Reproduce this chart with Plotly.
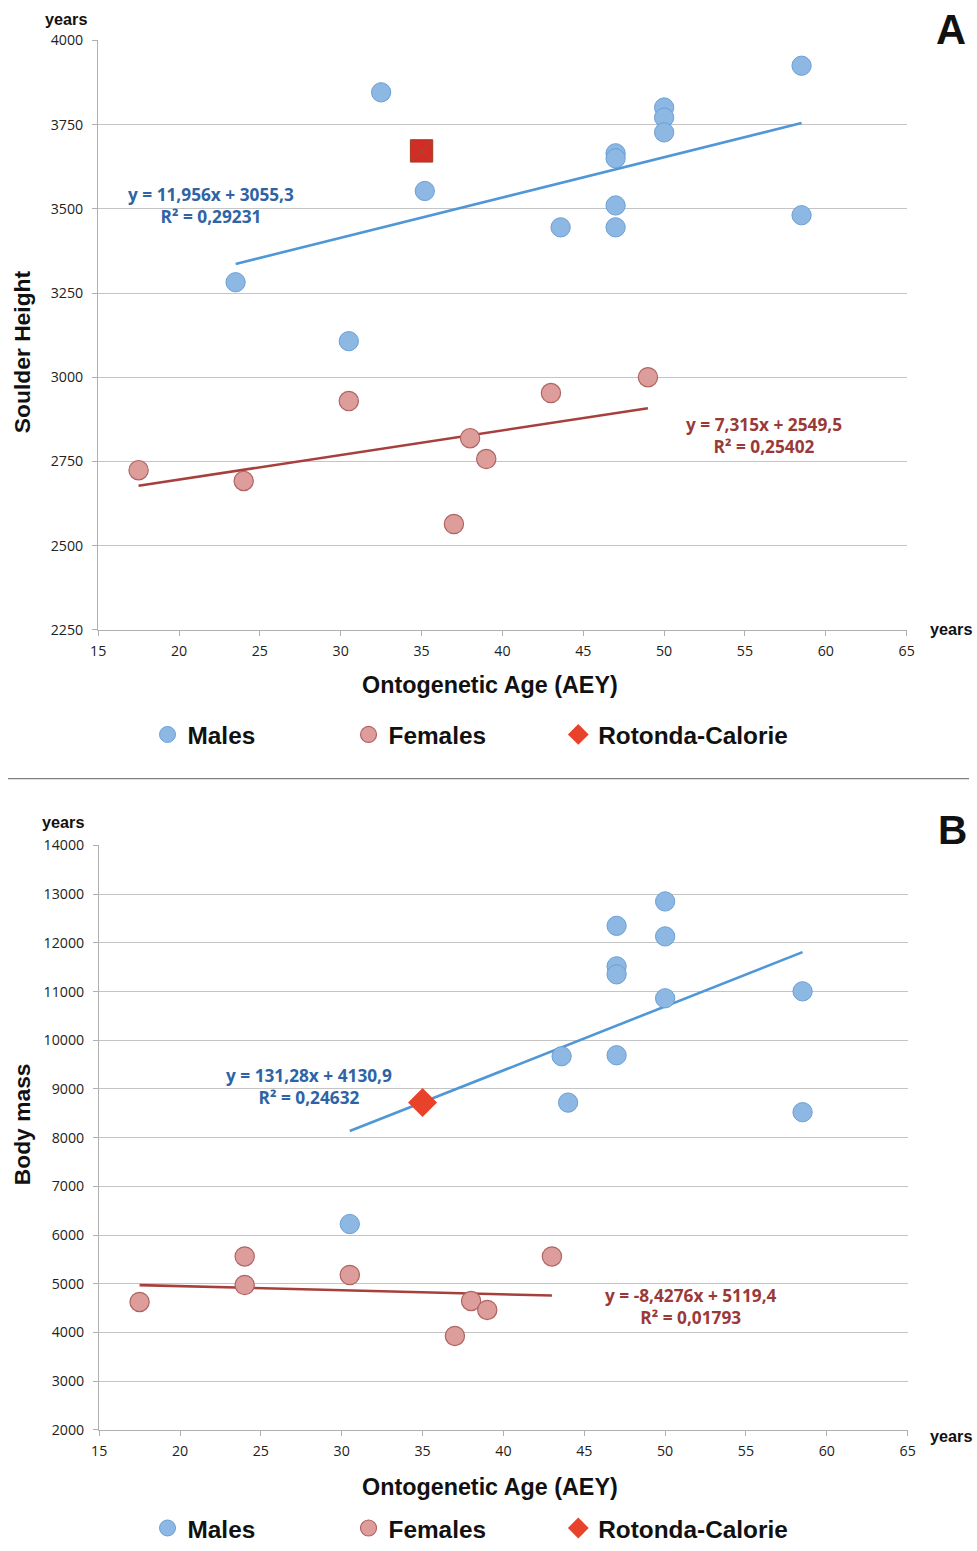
import plotly.graph_objects as go

W, H = 977, 1551
# Calibration of the photographing step (the picture comes out slightly shrunk and offset);
# layout positions below are given in target-picture pixels and mapped through these.
SX, OX = 0.983, 7.9
SY, OY = 0.987, 9.5
K = 1.015  # size compensation for the shrink

# ---------- Data: panel A (shoulder height) ----------
a_male_age = [23.5, 32.5, 35.2, 30.5, 43.6, 47, 47, 47, 47, 50, 50, 50, 58.5, 58.5]
a_male_val = [3282, 3846, 3553, 3107, 3445, 3665, 3650, 3510, 3445, 3801, 3771, 3727, 3925, 3481]
a_fem_age = [17.5, 24, 30.5, 37, 38, 39, 43, 49]
a_fem_val = [2724, 2692, 2929, 2564, 2819, 2757, 2953, 3000]
a_rot_age = [35]
a_rot_val = [3672]
a_male_fit = (11.956, 3055.3, [23.5, 58.5])
a_fem_fit = (7.315, 2549.5, [17.5, 49])

# ---------- Data: panel B (body mass) ----------
b_male_age = [30.5, 43.6, 44, 47, 47, 47, 47, 50, 50, 50, 58.5, 58.5]
b_male_val = [6226, 9672, 8720, 12350, 11518, 11354, 9692, 12851, 12133, 10862, 11005, 8523]
b_fem_age = [17.5, 24, 24, 30.5, 37, 38, 39, 43]
b_fem_val = [4626, 5560, 4974, 5179, 3928, 4646, 4462, 5560]
b_rot_age = [35]
b_rot_val = [8720]
b_male_fit = (131.28, 4130.9, [30.5, 58.5])
b_fem_fit = (-8.4276, 5119.4, [17.5, 43])

x_ticks = [15, 20, 25, 30, 35, 40, 45, 50, 55, 60, 65]
a_y_ticks = [2250, 2500, 2750, 3000, 3250, 3500, 3750, 4000]
b_y_ticks = list(range(2000, 14001, 1000))

MALE_FILL, MALE_EDGE = "#8cb8e3", "#6c9fd4"
FEM_FILL, FEM_EDGE = "#dd9d9b", "#b06461"
MALE_LINE, FEM_LINE = "#4f97d6", "#a7403c"
MALE_TXT, FEM_TXT = "#2e64a5", "#9a3a38"
ROT_A, ROT_B = "#d42b27", "#e8432a"

def fx(p):
    return (p - OX) / SX

def fy(p):
    return (p - OY) / SY

def px_x(p):
    return min(max(fx(p) / W, 0), 1)

def px_y(p):
    return min(max(1 - fy(p) / H, 0), 1)

fig = go.Figure()
MS = 19 * K

def add_panel(xa, ya, leg, leg_rot, male_x, male_y, fem_x, fem_y, rot_x, rot_y, square, rot_col, mfit, ffit):
    for (m, b, xr), col in ((mfit, MALE_LINE), (ffit, FEM_LINE)):
        fig.add_trace(go.Scatter(x=xr, y=[m * v + b for v in xr], mode="lines",
                                 line=dict(color=col, width=2.6), xaxis=xa, yaxis=ya,
                                 showlegend=False, hoverinfo="skip"))
    fig.add_trace(go.Scatter(x=male_x, y=male_y, mode="markers", name="Males",
                             marker=dict(size=MS, color=MALE_FILL, line=dict(color=MALE_EDGE, width=1)),
                             xaxis=xa, yaxis=ya, legend=leg))
    fig.add_trace(go.Scatter(x=fem_x, y=fem_y, mode="markers", name="Females",
                             marker=dict(size=MS, color=FEM_FILL, line=dict(color=FEM_EDGE, width=1.2)),
                             xaxis=xa, yaxis=ya, legend=leg))
    if not square:
        fig.add_trace(go.Scatter(x=rot_x, y=rot_y, mode="markers", name="Rotonda-Calorie",
                                 marker=dict(size=22 * K, symbol="diamond", color=rot_col,
                                             line=dict(color=rot_col, width=0)),
                                 xaxis=xa, yaxis=ya, legend=leg_rot))
    else:
        fig.add_trace(go.Scatter(x=rot_x, y=rot_y, mode="markers", name="Rotonda-Calorie",
                                 marker=dict(size=22 * K, symbol="square", color=rot_col,
                                             line=dict(color="#a33a22", width=1)),
                                 xaxis=xa, yaxis=ya, showlegend=False))
        fig.add_trace(go.Scatter(x=rot_x, y=rot_y, mode="markers",
                                 marker=dict(size=21 * K, symbol="x-thin", color="#8a5a2a",
                                             line=dict(color="#8a5a2a", width=1)),
                                 xaxis=xa, yaxis=ya, showlegend=False, hoverinfo="skip"))
        fig.add_trace(go.Scatter(x=[None], y=[None], mode="markers", name="Rotonda-Calorie",
                                 marker=dict(size=22, symbol="diamond", color=ROT_B),
                                 xaxis=xa, yaxis=ya, legend=leg_rot))

add_panel("x", "y", "legend", "legend3", a_male_age, a_male_val, a_fem_age, a_fem_val,
          a_rot_age, a_rot_val, True, ROT_A, a_male_fit, a_fem_fit)
add_panel("x2", "y2", "legend2", "legend4", b_male_age, b_male_val, b_fem_age, b_fem_val,
          b_rot_age, b_rot_val, False, ROT_B, b_male_fit, b_fem_fit)

tick_font = dict(family="Open Sans, Liberation Sans, sans-serif", size=14 * K, color="#222")
axis_common = dict(showline=True, linecolor="#b0b0b0", linewidth=1.3, ticks="outside",
                   tickcolor="#b0b0b0", ticklen=5, tickfont=tick_font, zeroline=False,
                   tickformat="d")

leg_font = dict(family="Liberation Sans, Arial, sans-serif", size=24 * K, color="#111", weight="bold")

def leg(x_fig, y_fig, ew=None):
    d = dict(orientation="h", x=x_fig / W, y=1 - y_fig / H, xanchor="left", yanchor="middle",
             font=leg_font, bgcolor="rgba(0,0,0,0)", itemsizing="trace")
    if ew:
        d.update(entrywidth=ew, entrywidthmode="pixels")
    return d

fig.update_layout(
    width=W, height=H, autosize=False, plot_bgcolor="white", paper_bgcolor="white",
    margin=dict(l=0, r=0, t=0, b=0),
    xaxis=dict(domain=[px_x(98), px_x(906)], range=[15, 65], tickvals=x_ticks,
               showgrid=False, anchor="y", ticklabelstandoff=3, **axis_common),
    yaxis=dict(domain=[px_y(630), px_y(40)], range=[2250, 4000], tickvals=a_y_ticks,
               showgrid=True, gridcolor="#c4c4c4", gridwidth=1.3, anchor="x",
               ticklabelstandoff=6, **axis_common),
    xaxis2=dict(domain=[px_x(99), px_x(907)], range=[15, 65], tickvals=x_ticks,
                showgrid=False, anchor="y2", ticklabelstandoff=3, **axis_common),
    yaxis2=dict(domain=[px_y(1431), px_y(846)], range=[2000, 14000], tickvals=b_y_ticks,
                showgrid=True, gridcolor="#c4c4c4", gridwidth=1.3, anchor="x2",
                ticklabelstandoff=6, **axis_common),
    legend=leg(fx(167) - 20, fy(735), 156),
    legend2=leg(fx(167) - 20, 1540, 156),
    legend3=leg(fx(577) - 19.5, fy(735)),
    legend4=leg(fx(577) - 19.5, 1540),
    showlegend=True,
)

ann = []
bold_font = lambda s, c="#111": dict(family="Liberation Sans, Arial, sans-serif", size=s * K, color=c)
eq_font = lambda c: dict(family="Open Sans, Noto Sans, sans-serif", size=17 * K, color=c)

def paper_ann(text, x, y, size, angle=0, color="#111", xanchor="center"):
    ann.append(dict(text=text, x=px_x(x), y=px_y(y), xref="paper", yref="paper",
                    showarrow=False, font=bold_font(size, color), textangle=angle,
                    xanchor=xanchor, yanchor="middle"))

paper_ann("<b>years</b>", 66, 19, 16)
paper_ann("<b>years</b>", 950, 629, 16)
paper_ann("<b>years</b>", 63, 822, 16)
paper_ann("<b>years</b>", 950, 1437, 16)
paper_ann("<b>A</b>", 950, 29, 41)
paper_ann("<b>B</b>", 952, 830, 40)
paper_ann("<b>Soulder Height</b>", 22, 352, 22.5, angle=-90)
paper_ann("<b>Body mass</b>", 22, 1125, 22.5, angle=-90)
paper_ann("<b>Ontogenetic Age (AEY)</b>", 490, 685, 23)
paper_ann("<b>Ontogenetic Age (AEY)</b>", 490, 1488, 23)

def eq_ann(text, x, y, xa, ya, color):
    ann.append(dict(text=text, x=x, y=y, xref=xa, yref=ya, showarrow=False,
                    font=eq_font(color), align="center"))

eq_ann("<b>y = 11,956x + 3055,3<br>R² = 0,29231</b>", 22.0, 3510, "x", "y", MALE_TXT)
eq_ann("<b>y = 7,315x + 2549,5<br>R² = 0,25402</b>", 56.15, 2828, "x", "y", FEM_TXT)
eq_ann("<b>y = 131,28x + 4130,9<br>R² = 0,24632</b>", 28.0, 9056, "x2", "y2", MALE_TXT)
eq_ann("<b>y = -8,4276x + 5119,4<br>R² = 0,01793</b>", 51.6, 4523, "x2", "y2", FEM_TXT)

fig.update_layout(annotations=ann)

fig.add_shape(type="line", xref="paper", yref="paper", x0=0, x1=1, y0=px_y(779), y1=px_y(779),
              line=dict(color="#808080", width=1.2))

fig.write_html("out.html", config={"displayModeBar": False, "responsive": False},
               post_script="document.body.style.margin='0';document.body.style.overflow='hidden';")
